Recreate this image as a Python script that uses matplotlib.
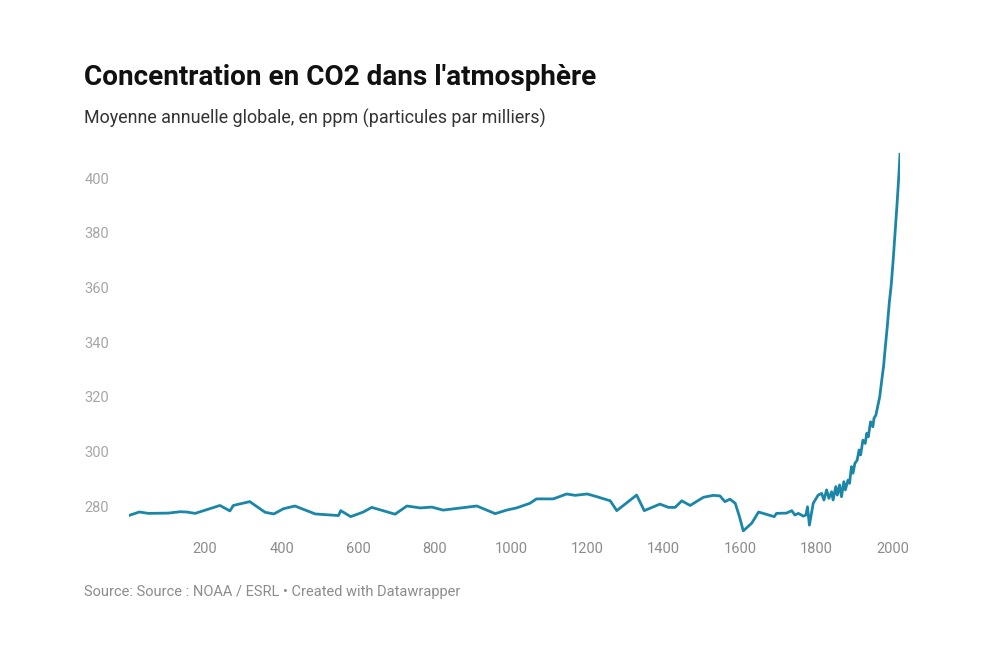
import matplotlib
matplotlib.use("Agg")
import matplotlib.pyplot as plt

# annual mean CO2, ppm
years = [0, 28, 52, 104, 135, 152, 174, 239, 265, 274, 317, 357, 380, 405, 435,
         488, 549, 555, 581, 614, 636, 697, 728, 763, 793, 823, 911, 959, 989,
         1015, 1050, 1067, 1111, 1146, 1168, 1200, 1225, 1260, 1277, 1329, 1349,
         1390, 1412, 1430, 1447, 1469, 1504, 1530, 1547, 1560, 1573, 1587, 1598,
         1608, 1630, 1648, 1689, 1695, 1721, 1735, 1743, 1752, 1765, 1772, 1776,
         1781, 1791, 1804, 1813, 1819, 1826, 1832, 1839, 1843, 1850, 1854, 1860,
         1865, 1871, 1875, 1882, 1886, 1891, 1895, 1900, 1906, 1911, 1915, 1921,
         1927, 1931, 1935, 1941, 1947, 1950, 1955, 1959, 1965, 1970, 1975, 1980,
         1985, 1990, 1995, 2000, 2005, 2010, 2015, 2018]
ppm = [276.5, 277.8, 277.3, 277.4, 277.9, 277.8, 277.3, 280.2, 278.2, 280.2,
       281.6, 277.7, 277.1, 279.0, 280.0, 277.1, 276.5, 278.3, 276.1, 277.8,
       279.5, 277.0, 280.0, 279.3, 279.6, 278.5, 280.0, 277.2, 278.5, 279.3,
       281.0, 282.6, 282.6, 284.4, 283.9, 284.4, 283.4, 281.9, 278.3, 284.0,
       278.3, 280.7, 279.5, 279.5, 281.9, 280.2, 283.2, 283.9, 283.7, 281.6,
       282.5, 281.0, 276.1, 270.9, 273.7, 277.8, 276.1, 277.3, 277.4, 278.3,
       276.7, 277.3, 276.3, 276.7, 279.7, 273.0, 281.0, 284.0, 284.6, 282.2,
       285.9, 282.8, 285.2, 282.2, 287.1, 284.0, 287.7, 283.4, 288.9, 285.9,
       289.5, 288.3, 294.4, 292.0, 295.6, 296.8, 300.5, 298.7, 304.1, 302.9,
       306.6, 305.3, 310.8, 309.0, 312.1, 313.3, 316.0, 320.0, 325.7, 331.1,
       338.8, 346.1, 354.4, 360.8, 369.7, 379.8, 389.9, 401.0, 408.7]

y_ticks = [280, 300, 320, 340, 360, 380, 400]
x_ticks = [200, 400, 600, 800, 1000, 1200, 1400, 1600, 1800, 2000]

plt.rcParams['font.family'] = ['Roboto', 'DejaVu Sans']

fig = plt.figure(figsize=(10, 6.68), dpi=100)
ax = fig.add_axes([0.1286, 0.2016, 0.7714, 0.5728])

ax.plot(years, ppm, color="#1b87a8", linewidth=2.0, solid_joinstyle="round")

ax.set_xlim(0, 2018)
ax.set_ylim(270, 410)
ax.set_xticks(x_ticks)
ax.set_yticks(y_ticks)
ax.set_xticklabels([str(t) for t in x_ticks])
ax.set_yticklabels([str(t) for t in y_ticks])

for s in ax.spines.values():
    s.set_visible(False)
ax.tick_params(axis="x", length=0, pad=6, labelsize=10.5, labelcolor="#8c8c8c")
ax.tick_params(axis="y", length=0, pad=32, labelsize=10.5, labelcolor="#a6a6a6")
for lab in ax.get_yticklabels():
    lab.set_horizontalalignment("left")

fig.text(0.084, 0.873, "Concentration en CO2 dans l'atmosphère", fontsize=20.1,
         fontweight="bold", color="#111111", va="baseline")
fig.text(0.084, 0.815, "Moyenne annuelle globale, en ppm (particules par milliers)",
         fontsize=12.9, color="#333333", va="baseline")
fig.text(0.084, 0.108, "Source: Source : NOAA / ESRL • Created with Datawrapper",
         fontsize=10.5, color="#8c8c8c", va="baseline")

plt.savefig("out.png", dpi=100)
